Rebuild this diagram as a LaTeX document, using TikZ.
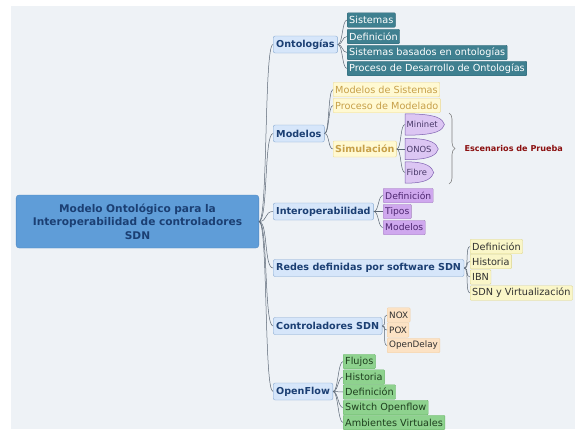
\documentclass[tikz,border=0pt]{standalone}
\usepackage{fontspec}
\setmainfont{DejaVu Sans}
\usetikzlibrary{calc,decorations.pathreplacing}
\pgfdeclarelayer{bglayer}
\pgfdeclarelayer{lenslayer}
\pgfsetlayers{bglayer,lenslayer,main}
\definecolor{bgcol}{HTML}{EEF2F6}
\definecolor{rootfill}{HTML}{5F9DD8}
\definecolor{rootdraw}{HTML}{4E86C0}
\definecolor{navy}{HTML}{1B3F73}
\definecolor{topicfill}{HTML}{D6E6FA}
\definecolor{topicdraw}{HTML}{86A8D0}
\definecolor{tealfill}{HTML}{3F8090}
\definecolor{tealdraw}{HTML}{2E6676}
\definecolor{goldfill}{HTML}{FFF9D2}
\definecolor{golddraw}{HTML}{EBD98F}
\definecolor{goldtext}{HTML}{C7A049}
\definecolor{lensfill}{HTML}{DCC6F3}
\definecolor{lensdraw}{HTML}{7E60B0}
\definecolor{lenstext}{HTML}{4A3A6A}
\definecolor{purplefill}{HTML}{CFA8EE}
\definecolor{purpletext}{HTML}{4D2670}
\definecolor{creamfill}{HTML}{FAF6C8}
\definecolor{creamdraw}{HTML}{DCD58A}
\definecolor{orangefill}{HTML}{FCE2C4}
\definecolor{orangedraw}{HTML}{F0CFA5}
\definecolor{greenfill}{HTML}{8ED28E}
\definecolor{greendraw}{HTML}{6BB86B}
\definecolor{greentext}{HTML}{1E3F1E}
\definecolor{darktext}{HTML}{303030}
\definecolor{escred}{HTML}{8B1010}
\definecolor{linecol}{HTML}{5A6674}
\tikzset{
  root/.style={draw=rootdraw, fill=rootfill, rounded corners=3pt, text=navy, align=center,
               font=\fontsize{10.6}{13.5}\selectfont\bfseries, minimum width=239pt, minimum height=53pt,
               text width=236pt},
  topic/.style={draw=topicdraw, fill=topicfill, rounded corners=2pt, text=navy, anchor=west,
                font=\fontsize{9.6}{11}\selectfont\bfseries, minimum height=17pt, inner xsep=3pt,
                inner ysep=0pt},
  leaf/.style={rounded corners=1pt, anchor=west, font=\fontsize{9.7}{11}\selectfont,
               minimum height=14.5pt, inner xsep=2pt, inner ysep=0pt},
  tealleaf/.style={leaf, draw=tealdraw, fill=tealfill, text=white},
  goldleaf/.style={leaf, draw=golddraw, fill=goldfill, text=goldtext},
  purpleleaf/.style={leaf, draw=purplefill!80!black, fill=purplefill, text=purpletext,
                     font=\fontsize{9.2}{11}\selectfont},
  creamleaf/.style={leaf, draw=creamdraw, fill=creamfill, text=darktext},
  orangeleaf/.style={leaf, draw=orangedraw, fill=orangefill, text=darktext,
                     font=\fontsize{8.8}{10}\selectfont},
  greenleaf/.style={leaf, draw=greendraw, fill=greenfill, text=greentext},
  lens/.style={anchor=west, font=\fontsize{8.4}{10}\selectfont, text=lenstext, minimum height=21pt,
               inner xsep=1.5pt, inner ysep=0pt},
  lensline/.style={draw=lensdraw, fill=lensfill, line width=0.5pt},
  conn/.style={draw=linecol, line width=0.5pt},
}

\begin{document}
\begin{tikzpicture}[x=1pt,y=1pt]
  \useasboundingbox (0,0) rectangle (575,-429);
  \begin{pgfonlayer}{bglayer}
    \fill[bgcol] (11,-6) rectangle (575,-429);
  \end{pgfonlayer}

  \node[root] (r) at (137.5,-221.5) {Modelo Ontológico para la\\Interoperabilidad de controladores\\SDN};

  \node[topic] (ont) at (273,-44.5) {Ontologías};
  \node[topic] (mod) at (273,-133.5) {Modelos};
  \node[topic] (int) at (273,-211.5) {Interoperabilidad};
  \node[topic] (sdn) at (273,-268) {Redes definidas por software SDN};
  \node[topic] (ctl) at (273,-326) {Controladores SDN};
  \node[topic] (of) at (273,-391.5) {OpenFlow};

  \node[tealleaf] (o1) at (347,-20) {Sistemas};
  \node[tealleaf] (o2) at (347,-36.5) {Definición};
  \node[tealleaf] (o3) at (347,-52.5) {Sistemas basados en ontologías};
  \node[tealleaf] (o4) at (347,-68.5) {Proceso de Desarrollo de Ontologías};

  \node[goldleaf] (m1) at (333,-89.5) {Modelos de Sistemas};
  \node[goldleaf] (m2) at (333,-105.5) {Proceso de Modelado};
  \node[goldleaf, font=\fontsize{9.6}{11}\selectfont\bfseries, minimum height=16pt] (sim) at (333,-149) {Simulación};

  \node[lens] (l1) at (405,-124.5) {Mininet};
  \node[lens] (l2) at (405,-149) {ONOS};
  \node[lens] (l3) at (405,-172.5) {Fibre};
  \begin{pgfonlayer}{lenslayer}
    \foreach \n in {l1,l2,l3}{
      \path[lensline] (\n.north west) .. controls (\n.north east) and ($(\n.east)+(3,5)$) .. ($(\n.east)+(5,0)$)
        .. controls ($(\n.east)+(3,-5)$) and (\n.south east) .. (\n.south west) -- cycle;
    }
  \end{pgfonlayer}

  \coordinate (bt) at (449,-113);
  \coordinate (bb) at (449,-184);
  \draw[draw=gray, line width=0.6pt, decorate, decoration={brace, amplitude=6pt}] (bt) -- (bb);
  \node[anchor=west, text=escred, font=\fontsize{8.1}{10}\selectfont\bfseries] (esc) at (461,-148.5) {Escenarios de Prueba};

  \node[purpleleaf] (i1) at (383,-195.5) {Definición};
  \node[purpleleaf] (i2) at (383,-211.5) {Tipos};
  \node[purpleleaf] (i3) at (383,-227.5) {Modelos};

  \node[creamleaf] (s1) at (470,-246.5) {Definición};
  \node[creamleaf] (s2) at (470,-261.5) {Historia};
  \node[creamleaf] (s3) at (470,-277) {IBN};
  \node[creamleaf] (s4) at (470,-293) {SDN y Virtualización};

  \node[orangeleaf] (c1) at (387,-315) {NOX};
  \node[orangeleaf] (c2) at (387,-330) {POX};
  \node[orangeleaf] (c3) at (387,-345.5) {OpenDelay};

  \node[greenleaf] (f1) at (343,-361.5) {Flujos};
  \node[greenleaf] (f2) at (343,-377) {Historia};
  \node[greenleaf] (f3) at (343,-392) {Definición};
  \node[greenleaf] (f4) at (343,-407.5) {Switch Openflow};
  \node[greenleaf] (f5) at (343,-422.5) {Ambientes Virtuales};

  \foreach \t in {ont,mod,int,sdn,ctl,of}
    \draw[conn] (r.east) .. controls +(9,0) and +(-9,0) .. (\t.west);
  \foreach \p/\c in {ont/o1,ont/o2,ont/o3,ont/o4,mod/m1,mod/m2,mod/sim,sim/l1,sim/l2,sim/l3,
                     int/i1,int/i2,int/i3,sdn/s1,sdn/s2,sdn/s3,sdn/s4,ctl/c1,ctl/c2,ctl/c3,
                     of/f1,of/f2,of/f3,of/f4,of/f5}
    \draw[conn] (\p.east) .. controls +(5,0) and +(-5,0) .. (\c.west);
\end{tikzpicture}
\end{document}
